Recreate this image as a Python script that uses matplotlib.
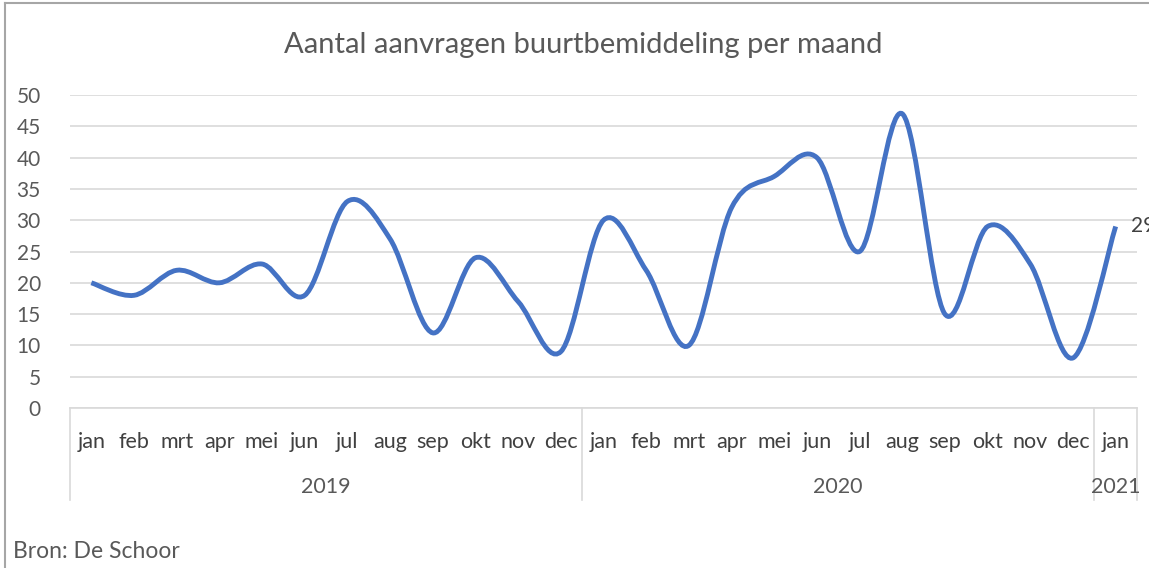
import matplotlib.pyplot as plt
from matplotlib.path import Path
from matplotlib.patches import PathPatch
from matplotlib.lines import Line2D
import numpy as np

# Gegevens: aanvragen buurtbemiddeling per maand
maanden = ['jan', 'feb', 'mrt', 'apr', 'mei', 'jun', 'jul', 'aug', 'sep', 'okt', 'nov', 'dec',
           'jan', 'feb', 'mrt', 'apr', 'mei', 'jun', 'jul', 'aug', 'sep', 'okt', 'nov', 'dec',
           'jan']
jaren = ['2019', '2020', '2021']
maanden_per_jaar = [12, 12, 1]
aanvragen = [20, 18, 22, 20, 23, 18, 33, 27, 12, 24, 17, 9,
             30, 22, 10, 32, 37, 40, 25, 47, 15, 29, 23, 8,
             29]

plt.rcParams['font.family'] = ['Lato', 'DejaVu Sans']
grijs = '#595959'
lijnkleur = '#4472C4'

fig = plt.figure(figsize=(11.49, 5.68), dpi=100)
ax = fig.add_axes([70 / 1149, 1 - 408 / 568, (1137 - 70) / 1149, (408 - 95) / 568])

x = np.arange(len(aanvragen))
y = np.array(aanvragen, dtype=float)

# Gladde lijn zoals in Excel (Bezier-segmenten tussen de punten)
verts = [(x[0], y[0])]
codes = [Path.MOVETO]
for i in range(len(x) - 1):
    x0, y0 = x[max(i - 1, 0)], y[max(i - 1, 0)]
    x1, y1 = x[i], y[i]
    x2, y2 = x[i + 1], y[i + 1]
    x3, y3 = x[min(i + 2, len(x) - 1)], y[min(i + 2, len(x) - 1)]
    c1 = (x1 + (x2 - x0) / 6, y1 + (y2 - y0) / 6)
    c2 = (x2 - (x3 - x1) / 6, y2 - (y3 - y1) / 6)
    verts += [c1, c2, (x2, y2)]
    codes += [Path.CURVE4] * 3
ax.add_patch(PathPatch(Path(verts, codes), facecolor='none', edgecolor=lijnkleur,
                       linewidth=3.5, capstyle='butt', zorder=3))

ax.set_xlim(-0.5, len(x) - 0.5)
ax.set_ylim(0, 50)
ax.set_yticks(range(0, 51, 5))
ax.yaxis.grid(True, color='#d9d9d9', linewidth=1.2)
ax.set_axisbelow(True)
for s in ['top', 'right', 'left']:
    ax.spines[s].set_visible(False)
ax.spines['bottom'].set_color('#d9d9d9')
ax.spines['bottom'].set_linewidth(1.2)
ax.tick_params(axis='y', length=0, labelsize=15, labelcolor=grijs, pad=21)
ax.set_xticks(x)
ax.set_xticklabels(maanden, fontsize=15.5, color='#404040')
ax.tick_params(axis='x', length=0, pad=17)

# jaartallen en scheidingslijnen onder de as
start = 0
trans = ax.get_xaxis_transform()
grenzen = [-0.5]
for jaar, n in zip(jaren, maanden_per_jaar):
    midden = start + (n - 1) / 2
    ax.text(midden, -0.253, jaar, transform=trans, ha='center', va='center',
            fontsize=15.5, color=grijs)
    start += n
    grenzen.append(start - 0.5)
for g in grenzen:
    ax.add_line(Line2D([g, g], [0, -0.295], transform=trans, color='#d9d9d9',
                       linewidth=1.2, clip_on=False))

# datalabel laatste punt
ax.annotate(str(aanvragen[-1]), (x[-1], y[-1]), xytext=(11, 0), textcoords='offset points',
            fontsize=15, color='#404040', va='center', ha='left', annotation_clip=False)

fig.text(0.508, 1 - 45 / 568, 'Aantal aanvragen buurtbemiddeling per maand', ha='center',
         va='center', fontsize=21, color=grijs)
fig.text(13 / 1149, 1 - 552 / 568, 'Bron: De Schoor', ha='left', va='center',
         fontsize=16.5, color=grijs)

# kader rond de grafiek
fig.add_artist(Line2D([5 / 1149, 5 / 1149], [0, 1 - 3 / 568], color='#a6a6a6', linewidth=1.5))
fig.add_artist(Line2D([5 / 1149, 1], [1 - 3 / 568, 1 - 3 / 568], color='#a6a6a6', linewidth=1.5))

fig.savefig('out.png', dpi=100)
